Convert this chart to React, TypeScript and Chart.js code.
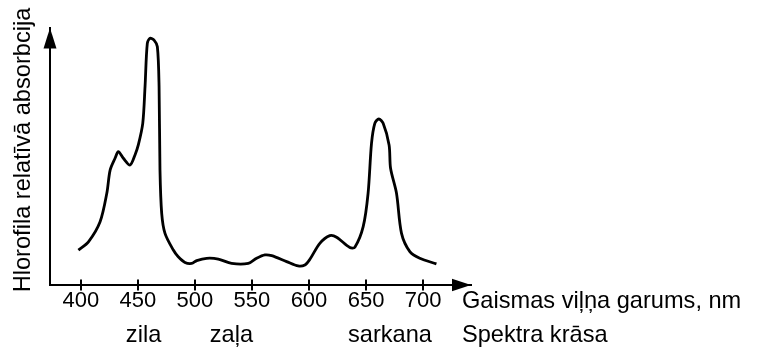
import React, { useEffect, useRef } from "react";
import { Chart, registerables } from "chart.js";

Chart.register(...registerables);

// Wavelength (nm) and relative absorption
const wavelengths = [
  397.9, 406.7, 416.9, 422.8, 425.7, 430.0, 432.9, 437.3, 443.2, 447.5,
  450.4, 454.3, 456.3, 458.3, 460.7, 464.2, 467.1, 468.6, 469.4, 470.9,
  473.8, 481.1, 485.2, 491.3, 497.2, 501.6, 510.3, 520.5, 532.2, 546.8,
  554.1, 561.4, 567.3, 580.4, 590.5, 596.4, 600.8, 609.5, 618.3, 624.2,
  635.8, 640.2, 647.5, 651.8, 654.8, 657.7, 661.2, 665.0, 670.2, 671.5,
  676.7, 681.1, 688.4, 697.1, 711.7,
];
const absorption = [
  13.6, 16.8, 24.6, 35.7, 44.7, 49.3, 51.9, 49.3, 46.7, 50.6,
  54.5, 62.9, 77.2, 94.0, 96.0, 95.3, 92.7, 77.2, 44.7, 27.9,
  20.1, 13.6, 11.1, 8.8, 8.4, 9.5, 10.4, 10.1, 8.4, 8.4,
  10.4, 11.7, 11.4, 9.1, 7.4, 7.8, 10.0, 16.2, 19.2, 18.6,
  14.6, 14.7, 22.7, 35.7, 55.1, 62.9, 64.6, 62.9, 54.5, 45.4,
  35.7, 20.1, 13.0, 10.4, 8.2,
];
const tickValues = [400, 450, 500, 550, 600, 650, 700];
const spectrumNames = ["zila", "zaļa", "sarkana"];
const spectrumCenters = [455, 532, 671];
const xTitle = "Gaismas viļņa garums, nm";
const spectrumTitle = "Spektra krāsa";
const yTitle = "Hlorofila relatīvā absorbcija";

const FONT = '"Liberation Sans", Arial, sans-serif';

const overlayPlugin = {
  id: "overlay",
  afterDraw(chart: any) {
    const ctx = chart.ctx as CanvasRenderingContext2D;
    const { left, right, top, bottom } = chart.chartArea;
    const xs = chart.scales.x;
    ctx.save();
    ctx.fillStyle = "#000";
    ctx.strokeStyle = "#000";
    // crossing tick marks
    ctx.lineWidth = 2;
    ctx.beginPath();
    xs.ticks.forEach((t: any) => {
      const px = Math.round(xs.getPixelForValue(t.value));
      ctx.moveTo(px, bottom - 5.5);
      ctx.lineTo(px, bottom + 5.5);
    });
    ctx.stroke();
    // arrows
    ctx.beginPath();
    ctx.moveTo(left, top);
    ctx.lineTo(left - 6.5, top + 20.5);
    ctx.lineTo(left + 6.5, top + 20.5);
    ctx.closePath();
    ctx.fill();
    ctx.beginPath();
    ctx.moveTo(right, bottom);
    ctx.lineTo(right - 19, bottom - 6.3);
    ctx.lineTo(right - 19, bottom + 6.3);
    ctx.closePath();
    ctx.fill();
    // texts
    ctx.font = `23.6px ${FONT}`;
    ctx.textBaseline = "alphabetic";
    ctx.textAlign = "left";
    ctx.fillText(xTitle, 462, 308);
    ctx.fillText(spectrumTitle, 462, 342);
    ctx.textAlign = "center";
    spectrumNames.forEach((n, i) => {
      ctx.fillText(n, xs.getPixelForValue(spectrumCenters[i]), 342);
    });
    // y title
    ctx.translate(29.5, 150);
    ctx.rotate(-Math.PI / 2);
    ctx.textAlign = "center";
    ctx.fillText(yTitle, 0, 0);
    ctx.restore();
  },
};

export default function App() {
  const ref = useRef<HTMLCanvasElement | null>(null);
  useEffect(() => {
    if (!ref.current) return;
    const chart = new Chart(ref.current, {
      type: "line",
      data: {
        datasets: [
          {
            data: wavelengths.map((w, i) => ({ x: w, y: absorption[i] })),
            borderColor: "#000",
            borderWidth: 2.8,
            pointRadius: 0,
            tension: 0.3,
            fill: false,
          },
        ],
      },
      options: {
        animation: false,
        responsive: false,
        devicePixelRatio: 1,
        layout: { padding: { top: 28, right: 292, left: 0, bottom: 0 } },
        plugins: { legend: { display: false }, tooltip: { enabled: false } },
        scales: {
          x: {
            type: "linear",
            min: 373,
            max: 742,
            afterBuildTicks: (scale: any) => {
              scale.ticks = tickValues.map((v) => ({ value: v }));
            },
            afterFit: (scale: any) => {
              scale.height = 62;
            },
            grid: { display: false, drawTicks: false },
            border: { display: true, color: "#000", width: 2 },
            ticks: {
              color: "#000",
              font: { size: 22, family: FONT },
              padding: 3,
              maxRotation: 0,
              autoSkip: false,
              callback: (v: any) => String(v),
            },
          },
          y: {
            min: 0,
            max: 100,
            afterFit: (scale: any) => {
              scale.width = 50;
            },
            grid: { display: false, drawTicks: false },
            border: { display: true, color: "#000", width: 2 },
            ticks: { display: false },
          },
        },
      },
      plugins: [overlayPlugin],
    });
    return () => chart.destroy();
  }, []);
  return (
    <div style={{ position: "absolute", left: 0, top: 0, background: "#fff" }}>
      <canvas ref={ref} width={763} height={347} />
    </div>
  );
}
